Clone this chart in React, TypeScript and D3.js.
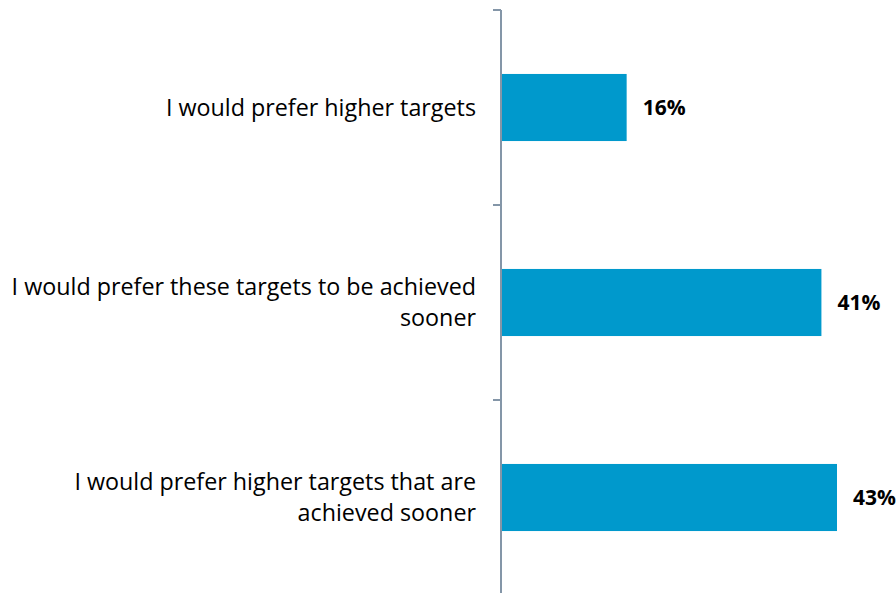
import React from "react";
import * as d3 from "d3";

const categories: string[][] = [
  ["I would prefer higher targets"],
  ["I would prefer these targets to be achieved", "sooner"],
  ["I would prefer higher targets that are", "achieved sooner"],
];
const values: number[] = [16, 41, 43];
const valueLabels: string[] = ["16%", "41%", "43%"];

const W = 896;
const H = 593;

export default function App() {
  const axisX = 501;
  const x = d3.scaleLinear().domain([0, 43]).range([axisX + 1, 837]);
  const ids = categories.map((_, i) => String(i));
  const y = d3.scaleBand<string>().domain(ids).range([10, 595]).paddingInner(0.656).paddingOuter(0.328);
  const ticks = [10, 205, 400, 595];
  const font = "'Open Sans', sans-serif";
  const fs = 23.3;
  const lh = 31;
  return (
    <svg width={W} height={H} style={{ position: "absolute", left: 0, top: 0, background: "#fff" }}>
      {ids.map((id, i) => {
        const cy = (y(id) as number) + y.bandwidth() / 2;
        const lines = categories[i];
        const y0 = cy - ((lines.length - 1) * lh) / 2;
        return (
          <g key={id}>
            <rect x={x(0)} y={y(id)} width={x(values[i]) - x(0)} height={y.bandwidth()} fill="#0099CC" />
            <text
              x={x(values[i]) + 16}
              y={cy}
              dy="0.35em"
              fontFamily={font}
              fontWeight="bold"
              fontSize={21}
              fill="#000"
            >
              {valueLabels[i]}
            </text>
            {lines.map((l, j) => (
              <text
                key={j}
                x={476}
                y={y0 + j * lh}
                dy="0.35em"
                textAnchor="end"
                fontFamily={font}
                fontSize={fs}
                fill="#000"
              >
                {l}
              </text>
            ))}
          </g>
        );
      })}
      <line x1={axisX} x2={axisX} y1={10} y2={H} stroke="#8496A8" strokeWidth={2} />
      {ticks.map((t) => (
        <line key={t} x1={axisX - 8} x2={axisX} y1={t} y2={t} stroke="#8496A8" strokeWidth={2} />
      ))}
    </svg>
  );
}
